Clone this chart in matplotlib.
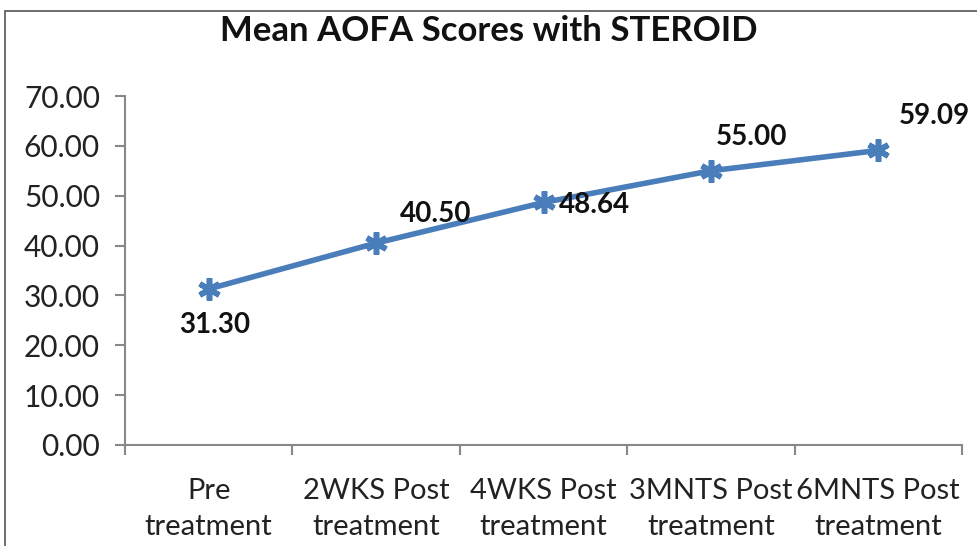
import matplotlib.pyplot as plt
from matplotlib.patches import Rectangle

categories = ["Pre\ntreatment", "2WKS Post\ntreatment", "4WKS Post\ntreatment",
              "3MNTS Post\ntreatment", "6MNTS Post\ntreatment"]
scores = [31.30, 40.50, 48.64, 55.00, 59.09]
y_ticks = [0, 10, 20, 30, 40, 50, 60, 70]
# label offsets in points (dx, dy) relative to each point
label_offsets = [(4, -26), (43, 21), (37, -2), (29, 24), (40, 25)]

plt.rcParams["font.family"] = ["Lato", "DejaVu Sans"]

fig = plt.figure(figsize=(9.78, 5.46), dpi=100)
fig.patches.append(Rectangle((5 / 978, -0.05), 1.1, 1 - 11 / 546 + 0.05, transform=fig.transFigure,
                             fill=False, edgecolor="#555555", linewidth=1.2))

ax = fig.add_axes([125 / 978, 1 - 445 / 546, (962 - 125) / 978, (445 - 96) / 546])
x = list(range(len(scores)))
ax.plot(x, scores, color="#4A7EBB", linewidth=4, marker=(6, 2, 0), markersize=16,
        markeredgewidth=4, markeredgecolor="#4A7EBB", solid_capstyle="round")

for xi, val, (dx, dy) in zip(x, scores, label_offsets):
    ax.annotate(f"{val:.2f}", (xi, val), xytext=(dx, dy), textcoords="offset points",
                ha="center", va="center", fontsize=20, fontweight="bold", color="#111111")

ax.set_xlim(-0.5, len(scores) - 0.5)
ax.set_ylim(0, 70)
ax.set_yticks(y_ticks)
ax.set_yticklabels([f"{v:.2f}" for v in y_ticks])
ax.set_xticks(x)
ax.set_xticklabels(categories, linespacing=1.45)
ax.set_xticks([i - 0.5 for i in range(len(scores) + 1)], minor=True)
ax.tick_params(axis="x", which="major", length=0, pad=24, labelsize=21, colors="#222222")
ax.tick_params(axis="x", which="minor", length=7, width=1.5, color="#888888", direction="out")
ax.tick_params(axis="y", length=7, width=1.5, color="#888888", direction="out", pad=11,
               labelsize=21.5, labelcolor="#222222")
for side in ["top", "right"]:
    ax.spines[side].set_visible(False)
for side in ["left", "bottom"]:
    ax.spines[side].set_color("#888888")
    ax.spines[side].set_linewidth(1.5)

fig.text(0.5, 1 - 31 / 546, "Mean AOFA Scores with STEROID", ha="center", va="center",
         fontsize=25, fontweight="bold", color="#111111")

fig.savefig("out.png", dpi=100)
